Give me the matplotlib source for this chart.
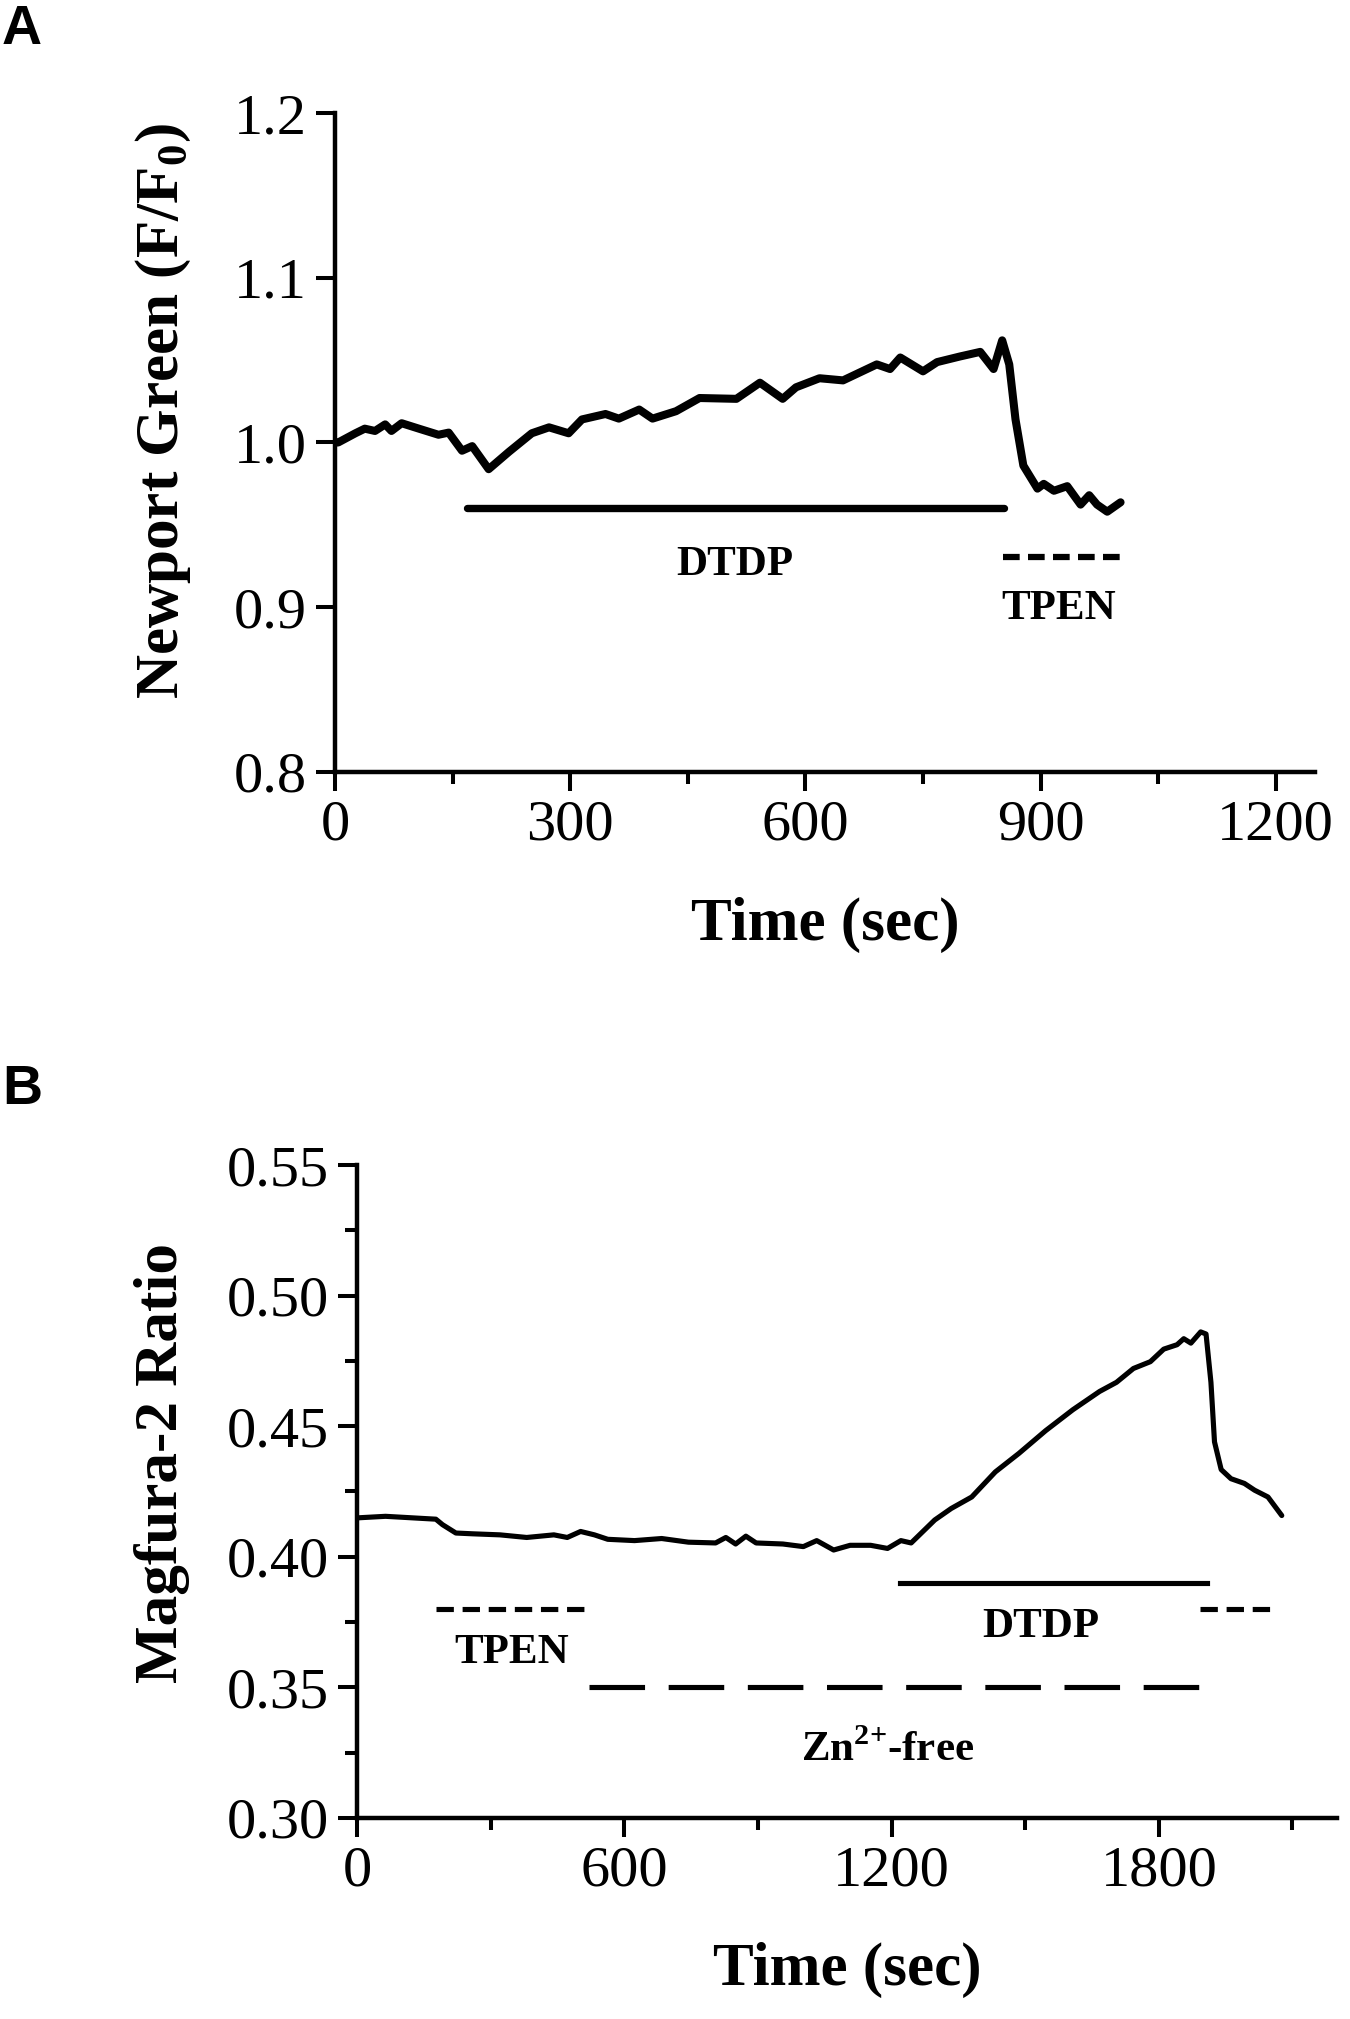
import matplotlib
matplotlib.use("Agg")
import matplotlib.pyplot as plt
from matplotlib.ticker import MultipleLocator

plt.rcParams['font.family'] = ['Liberation Serif', 'DejaVu Serif']
plt.rcParams['mathtext.fontset'] = 'custom'
plt.rcParams['mathtext.rm'] = 'Liberation Serif'
plt.rcParams['mathtext.bf'] = 'Liberation Serif:bold'
plt.rcParams['lines.scale_dashes'] = False

# ---------------- Panel A data ----------------
a_time = [0, 4, 26, 38, 51, 64, 72, 85, 107, 132, 145, 162, 175, 196, 222, 251, 273,
          298, 315, 345, 362, 388, 405, 435, 465, 512, 542, 571, 588, 618, 648, 691,
          708, 721, 750, 768, 797, 823, 840, 851, 860, 868, 878, 896, 904, 917, 934,
          951, 962, 972, 985, 1002]
a_value = [1.000, 1.000, 1.0056, 1.0084, 1.007, 1.011, 1.007, 1.0117, 1.0084, 1.0047,
           1.006, 0.995, 0.9978, 0.9838, 0.9944, 1.0056, 1.0092, 1.0056, 1.014, 1.0173,
           1.0145, 1.020, 1.0145, 1.019, 1.027, 1.0265, 1.0363, 1.0265, 1.0335, 1.039,
           1.0377, 1.0474, 1.0446, 1.0516, 1.0432, 1.0488, 1.0522, 1.055, 1.0446, 1.062,
           1.0474, 1.014, 0.986, 0.972, 0.9749, 0.9707, 0.9735, 0.9623, 0.968, 0.9623,
           0.958, 0.9637]
a_dtdp_span = [168, 853]
a_dtdp_level = 0.960
a_tpen_span = [852, 1004]
a_tpen_level = 0.9305

# ---------------- Panel B data ----------------
b_time = [0, 64, 177, 192, 222, 260, 321, 381, 442, 472, 502, 533, 563, 623, 684, 744,
          805, 828, 850, 873, 896, 956, 1002, 1032, 1070, 1107, 1153, 1191, 1221, 1244,
          1297, 1334, 1380, 1433, 1486, 1546, 1607, 1667, 1705, 1743, 1781, 1811, 1841,
          1856, 1872, 1894, 1906, 1917, 1925, 1940, 1962, 1992, 2015, 2045, 2076]
b_value = [0.4149, 0.4155, 0.4144, 0.4123, 0.4091, 0.4088, 0.4084, 0.4074, 0.4084,
           0.4074, 0.4097, 0.4084, 0.4067, 0.4062, 0.4070, 0.4056, 0.4053, 0.4074,
           0.4049, 0.4079, 0.4053, 0.4049, 0.4039, 0.4062, 0.4026, 0.4044, 0.4044,
           0.4032, 0.4062, 0.4053, 0.4141, 0.4185, 0.4229, 0.4325, 0.4396, 0.4483,
           0.4563, 0.4633, 0.4668, 0.4721, 0.4747, 0.4795, 0.4812, 0.4835, 0.4818,
           0.4861, 0.4853, 0.4668, 0.4440, 0.4334, 0.4299, 0.4281, 0.4255, 0.4229,
           0.4158]
b_dtdp_span = [1218, 1908]
b_dtdp_level = 0.390
b_tpen1_span = [177, 516]
b_tpen2_span = [1892, 2058]
b_tpen_level = 0.380
b_znfree_span = [521, 1892]
b_znfree_level = 0.350

a_xticks = [0, 300, 600, 900, 1200]
a_yticks = [0.8, 0.9, 1.0, 1.1, 1.2]
b_xticks = [0, 600, 1200, 1800]
b_yticks = [0.30, 0.35, 0.40, 0.45, 0.50, 0.55]

W, H = 1350, 2019
fig = plt.figure(figsize=(W / 100, H / 100), dpi=100)

def px_axes(l, r, t, b):
    return fig.add_axes([l / W, 1 - b / H, (r - l) / W, (b - t) / H])

TICKFS = 42
LABFS = 44
ANNFS = 31

def style(ax):
    for s in ['top', 'right']:
        ax.spines[s].set_visible(False)
    for s in ['left', 'bottom']:
        ax.spines[s].set_linewidth(3.2)
    ax.tick_params(which='major', direction='out', length=14, width=2.9,
                   labelsize=TICKFS, pad=6)
    ax.tick_params(which='minor', direction='out', length=8.5, width=2.9)

# ---------------- Panel A ----------------
axA = px_axes(335, 1315, 113, 772)
axA.plot(a_time, a_value, color='black', lw=5.8, solid_joinstyle='round',
         solid_capstyle='round')
axA.plot(a_dtdp_span, [a_dtdp_level] * 2, color='black', lw=5.3, solid_capstyle='round')
axA.plot(a_tpen_span, [a_tpen_level] * 2, color='black', lw=4.5,
         dashes=(12, 6), dash_capstyle='butt')
axA.text(510, 0.9256, 'DTDP', fontsize=ANNFS, fontweight='bold', ha='center', va='center')
axA.text(923, 0.899, 'TPEN', fontsize=ANNFS, fontweight='bold', ha='center', va='center')
axA.set_xlim(0, 1250)
axA.set_ylim(0.8, 1.2)
axA.set_xticks(a_xticks)
axA.set_xticklabels([str(v) for v in a_xticks])
axA.xaxis.set_minor_locator(MultipleLocator(150))
axA.set_yticks(a_yticks)
axA.set_yticklabels(['%.1f' % v for v in a_yticks])
style(axA)
axA.set_xlabel('Time (sec)', fontsize=LABFS, fontweight='bold')
axA.set_ylabel(r'Newport Green (F/F$_{\mathbf{0}}$)', fontsize=LABFS, fontweight='bold')
axA.xaxis.set_label_coords(0.5, -0.19)
axA.yaxis.set_label_coords(-0.145, 0.548)

# ---------------- Panel B ----------------
axB = px_axes(357, 1337, 1165, 1818)
axB.plot(b_time, b_value, color='black', lw=3.7, solid_joinstyle='round',
         solid_capstyle='round')
axB.plot(b_dtdp_span, [b_dtdp_level] * 2, color='black', lw=3.7)
axB.plot(b_tpen1_span, [b_tpen_level] * 2, color='black', lw=3.7,
         dashes=(12.5, 6.3), dash_capstyle='butt')
axB.plot(b_tpen2_span, [b_tpen_level] * 2, color='black', lw=3.7,
         dashes=(12.5, 6.3), dash_capstyle='butt')
axB.plot(b_znfree_span, [b_znfree_level] * 2, color='black', lw=3.7,
         dashes=(40, 17), dash_capstyle='butt')
axB.text(1536, 0.373, 'DTDP', fontsize=ANNFS, fontweight='bold', ha='center', va='center')
axB.text(348, 0.3632, 'TPEN', fontsize=ANNFS, fontweight='bold', ha='center', va='center')
axB.text(1191, 0.326, r'Zn$^{\mathbf{2{+}}}$-free', fontsize=ANNFS, fontweight='bold',
         ha='center', va='center')
axB.set_xlim(0, 2200)
axB.set_ylim(0.30, 0.55)
axB.set_xticks(b_xticks)
axB.set_xticklabels([str(v) for v in b_xticks])
axB.xaxis.set_minor_locator(MultipleLocator(300))
axB.set_yticks(b_yticks)
axB.set_yticklabels(['%.2f' % v for v in b_yticks])
axB.yaxis.set_minor_locator(MultipleLocator(0.025))
style(axB)
axB.set_xlabel('Time (sec)', fontsize=LABFS, fontweight='bold')
axB.set_ylabel('Magfura-2 Ratio', fontsize=LABFS, fontweight='bold')
axB.xaxis.set_label_coords(0.5, -0.19)
axB.yaxis.set_label_coords(-0.17, 0.544)

# Panel letters
fig.text(2 / W, 1 - 4 / H, 'A', fontsize=40, fontweight='bold',
         family=['Liberation Sans', 'DejaVu Sans'], ha='left', va='top')
fig.text(2 / W, 1 - 1064 / H, 'B', fontsize=40, fontweight='bold',
         family=['Liberation Sans', 'DejaVu Sans'], ha='left', va='top')

fig.savefig('out.png', dpi=100, facecolor='white')
